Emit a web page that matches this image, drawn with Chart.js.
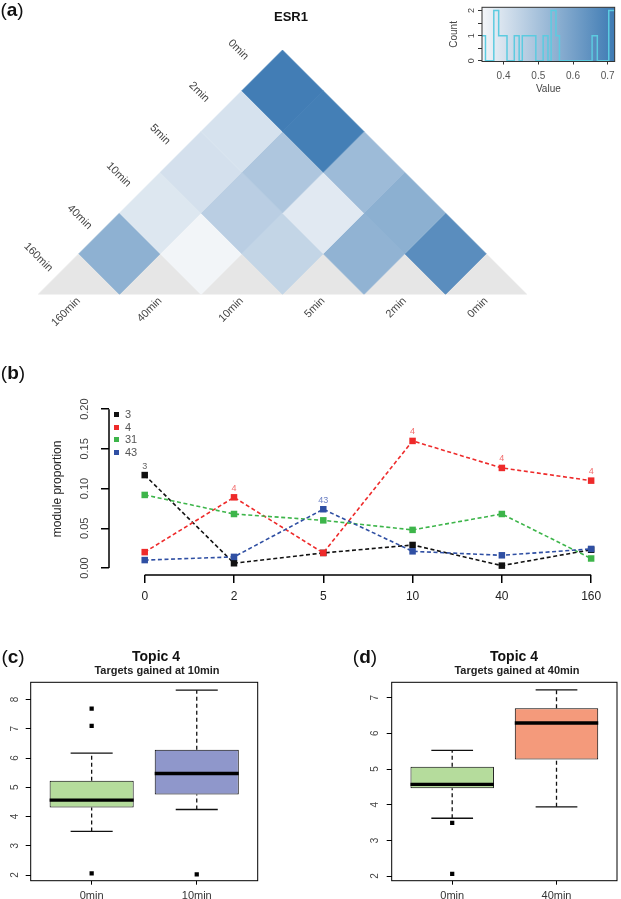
<!DOCTYPE html>
<html>
<head>
<meta charset="utf-8">
<title>ESR1 topic modules</title>
<script src="https://cdn.jsdelivr.net/npm/chart.js@4.4.1/dist/chart.umd.min.js"></script>
<style>
  html, body { margin: 0; padding: 0; background: #fff; }
  body { position: relative; width: 621px; height: 899px; overflow: hidden;
         font-family: 'Liberation Sans', Arial, Helvetica, sans-serif; }
  canvas { position: absolute; }
  .txt { position: absolute; transform: translate(-50%, -50%); white-space: nowrap; color: #111; }
  .tag { font-size: 19px; }
  .main { font-size: 14px; font-weight: bold; }
  .sub { font-size: 11px; font-weight: bold; color: #222; }
  #legendB { position: absolute; left: 114px; top: 408px; font-size: 11px; color: #555; line-height: 12.5px; }
  #legendB span { display: inline-block; width: 5px; height: 5px; margin-right: 6px; vertical-align: 1px; }
</style>
</head>
<body>
<canvas id="chartA" width="560" height="330" style="left:0;top:0"></canvas>
<canvas id="chartKey" width="181" height="100" style="left:440px;top:0"></canvas>
<canvas id="chartB" width="621" height="290" style="left:0;top:330px"></canvas>
<canvas id="chartC" width="310" height="259" style="left:0;top:640px"></canvas>
<canvas id="chartD" width="311" height="259" style="left:310px;top:640px"></canvas>

<div class="txt tag" style="left:12px;top:10px">(<b>a</b>)</div>
<div class="txt main" style="left:291px;top:16px;font-size:13px">ESR1</div>
<div class="txt tag" style="left:13px;top:373px">(<b>b</b>)</div>
<div id="legendB"></div>
<div class="txt tag" style="left:13px;top:657px">(<b>c</b>)</div>
<div class="txt main" style="left:156px;top:656px">Topic 4</div>
<div class="txt sub" style="left:157px;top:670px">Targets gained at 10min</div>
<div class="txt tag" style="left:365px;top:657px">(<b>d</b>)</div>
<div class="txt main" style="left:514px;top:656px">Topic 4</div>
<div class="txt sub" style="left:517px;top:670px">Targets gained at 40min</div>

<script>
(() => {
  'use strict';

  // ---- (a) similarity between time points
  const timeLabels = ['160min', '40min', '10min', '5min', '2min', '0min'];
  // levelN[i] = value for the pair (timeLabels[i], timeLabels[i + N])
  const level1 = [0.550, 0.342, 0.440, 0.545, 0.660];
  const level2 = [0.385, 0.460, 0.378, 0.555];
  const level3 = [0.405, 0.485, 0.520];
  const level4 = [0.400, 0.705];
  const level5 = [0.710];

  // colour key histogram (inset)
  const histEdges = [0.338, 0.348, 0.372, 0.386, 0.410, 0.431, 0.445, 0.454, 0.466, 0.479,
    0.493, 0.514, 0.528, 0.537, 0.551, 0.561, 0.655, 0.670, 0.703, 0.720];
  const histCounts = [1, 0, 2, 1, 0, 1, 0, 1, 1, 1, 0, 1, 0, 2, 1, 0, 1, 0, 2];
  const keyTicks = [0.4, 0.5, 0.6, 0.7];
  const countTicks = [0, 0.5, 1, 1.5, 2];

  // ---- (b) module proportions over time
  const timePoints = ['0', '2', '5', '10', '40', '160'];
  const mod3 = [0.117, 0.006, 0.019, 0.029, 0.003, 0.023];
  const mod4 = [0.020, 0.089, 0.019, 0.160, 0.126, 0.110];
  const mod31 = [0.092, 0.068, 0.060, 0.048, 0.068, 0.012];
  const mod43 = [0.010, 0.014, 0.074, 0.021, 0.016, 0.024];
  const moduleNames = ['3', '4', '31', '43'];
  const propTicks = [0, 0.05, 0.10, 0.15, 0.20];

  // ---- (c) topic 4, targets gained at 10min
  const groupsC = ['0min', '10min'];
  const lowC = [3.49, 4.24];
  const q1C = [4.31, 4.75];
  const medC = [4.56, 5.47];
  const q3C = [5.22, 6.28];
  const highC = [6.17, 8.32];
  const outC = [[7.69, 7.10, 2.06], [2.02]];
  const ticksC = [2, 3, 4, 5, 6, 7, 8];

  // ---- (d) topic 4, targets gained at 40min
  const groupsD = ['0min', '40min'];
  const lowD = [3.62, 3.94];
  const q1D = [4.46, 5.27];
  const medD = [4.57, 6.29];
  const q3D = [5.06, 6.70];
  const highD = [5.52, 7.22];
  const outD = [[3.49, 2.06], []];
  const ticksD = [2, 3, 4, 5, 6, 7];

  // styles
  const FONT = "'Liberation Sans', Arial, Helvetica, sans-serif";
  const keyLow = 0.338, keyHigh = 0.72;
  const lightRGB = [244, 246, 249], darkRGB = [61, 122, 179];
  const moduleColors = ['#111111', '#ee2a2a', '#3db54a', '#2f4fa3'];
  const moduleTagColors = ['#666666', '#f26d6d', '#6cc070', '#6c80c4'];

  Chart.defaults.font.family = FONT;
  Chart.defaults.animation = false;
  Chart.defaults.responsive = false;
  Chart.defaults.events = [];
  Chart.defaults.plugins.legend.display = false;
  Chart.defaults.plugins.tooltip.enabled = false;

  function shade(v) {
    const t = Math.min(1, Math.max(0, (v - keyLow) / (keyHigh - keyLow)));
    const c = lightRGB.map((l, k) => Math.round(l + (darkRGB[k] - l) * t));
    return `rgb(${c.join(',')})`;
  }

  const unitPx = c => {
    const s = c.chart.scales.x;
    return Math.abs(s.getPixelForValue(1) - s.getPixelForValue(0));
  };

  const fixed = list => s => { s.ticks = list.map(v => ({ value: v })); };

  function frame(color, width) {
    return {
      id: 'frame',
      afterDatasetsDraw(chart) {
        const { ctx, chartArea: a } = chart;
        ctx.save();
        ctx.strokeStyle = color;
        ctx.lineWidth = width;
        ctx.strokeRect(a.left, a.top, a.right - a.left, a.bottom - a.top);
        ctx.restore();
      }
    };
  }

  // R draws the y tick labels turned on their side
  function sideTicks(xPos, size, fmt) {
    return {
      id: 'sideTicks',
      afterDraw(chart) {
        const { ctx } = chart;
        const y = chart.scales.y;
        ctx.save();
        ctx.font = `${size}px ${FONT}`;
        ctx.fillStyle = '#444';
        ctx.textAlign = 'center';
        ctx.textBaseline = 'middle';
        y.ticks.forEach(t => {
          const txt = fmt(t.value);
          if (!txt) return;
          ctx.save();
          ctx.translate(xPos, y.getPixelForValue(t.value));
          ctx.rotate(-Math.PI / 2);
          ctx.fillText(txt, 0, 0);
          ctx.restore();
        });
        ctx.restore();
      }
    };
  }

  // ---------------- (a) triangle heatmap
  const levels = [level1, level2, level3, level4, level5];
  const cells = timeLabels.map((_, i) => ({ x: i, y: 0, v: null }));
  levels.forEach((row, d) => {
    row.forEach((v, i) => cells.push({ x: i + (d + 1) / 2, y: (d + 1) / 2, v }));
  });

  const rowLabels = {
    id: 'rowLabels',
    afterDraw(chart) {
      const { ctx, scales: { x, y } } = chart;
      ctx.save();
      ctx.font = `11px ${FONT}`;
      ctx.fillStyle = '#444';
      ctx.textAlign = 'right';
      ctx.textBaseline = 'middle';
      for (let k = 0; k < timeLabels.length; k++) {
        ctx.save();
        ctx.translate(x.getPixelForValue(2.06 - 0.48 * k), y.getPixelForValue(2.9 - 0.52 * k));
        ctx.rotate(Math.PI / 4);
        ctx.fillText(timeLabels[timeLabels.length - 1 - k], 0, 0);
        ctx.restore();
      }
      ctx.restore();
    }
  };

  const cellColor = c => (c.raw.v == null ? '#e6e6e6' : shade(c.raw.v));

  new Chart(document.getElementById('chartA'), {
    type: 'scatter',
    data: {
      datasets: [{
        data: cells,
        pointStyle: 'rectRot',
        pointRadius: c => unitPx(c) / 2,
        pointBackgroundColor: cellColor,
        pointBorderColor: cellColor,
        pointBorderWidth: 0.6
      }]
    },
    options: {
      layout: { padding: { left: 38, top: 50, right: 33, bottom: 0 } },
      scales: {
        x: {
          type: 'linear', min: -0.5, max: 5.5,
          afterBuildTicks: fixed(timeLabels.map((_, i) => i)),
          afterFit: s => { s.height = 35.5; },
          grid: { display: false, drawTicks: false },
          border: { display: false },
          ticks: {
            autoSkip: false, minRotation: 45, maxRotation: 45, padding: 0,
            color: '#444', font: { size: 11 },
            callback: v => timeLabels[v]
          }
        },
        y: { type: 'linear', display: false, min: 0, max: 3 }
      }
    },
    plugins: [rowLabels]
  });

  // ---------------- (a) colour key inset
  const histPts = histCounts.map((n, i) => ({ x: histEdges[i], y: n }));
  histPts.push({ x: histEdges[histEdges.length - 1], y: histCounts[histCounts.length - 1] });

  const keyRamp = {
    id: 'keyRamp',
    beforeDatasetsDraw(chart) {
      const { ctx, chartArea: a, scales: { x } } = chart;
      const g = ctx.createLinearGradient(x.getPixelForValue(keyLow), 0, x.getPixelForValue(keyHigh), 0);
      g.addColorStop(0, shade(keyLow));
      g.addColorStop(1, shade(keyHigh));
      ctx.save();
      ctx.fillStyle = g;
      ctx.fillRect(a.left, a.top, a.right - a.left, a.bottom - a.top);
      ctx.restore();
    }
  };

  new Chart(document.getElementById('chartKey'), {
    type: 'line',
    data: {
      datasets: [{
        data: histPts, stepped: true, borderColor: '#5ccbe0', borderWidth: 1.5,
        pointRadius: 0, fill: false
      }]
    },
    options: {
      layout: { padding: { top: 7.3, right: 6, left: 0, bottom: 0 } },
      scales: {
        x: {
          type: 'linear', min: keyLow, max: keyHigh,
          afterBuildTicks: fixed(keyTicks),
          afterFit: s => { s.height = 38.5; },
          border: { display: false },
          grid: { drawOnChartArea: false, tickLength: 3, color: '#333' },
          ticks: { autoSkip: false, maxRotation: 0, padding: 6, color: '#555', font: { size: 10 },
            callback: v => v.toFixed(1) },
          title: { display: true, text: 'Value', color: '#444', font: { size: 10 }, padding: { top: 0, bottom: 5 } }
        },
        y: {
          type: 'linear', min: -0.03, max: 2.13,
          afterBuildTicks: fixed(countTicks),
          afterFit: s => { s.width = 42; },
          border: { display: false },
          grid: { drawOnChartArea: false, tickLength: 4, color: '#333' },
          ticks: { display: false },
          title: { display: true, text: 'Count', color: '#444', font: { size: 10 }, padding: { top: 8, bottom: 0 } }
        }
      }
    },
    plugins: [keyRamp, frame('#333', 1), sideTicks(32, 9, v => (Number.isInteger(v) ? String(v) : ''))]
  });

  // ---------------- (b) module proportion lines
  const moduleSeries = [mod3, mod4, mod31, mod43];

  const peakLabels = {
    id: 'peakLabels',
    afterDatasetsDraw(chart) {
      const { ctx } = chart;
      ctx.save();
      ctx.font = `9px ${FONT}`;
      ctx.textAlign = 'center';
      ctx.textBaseline = 'middle';
      timePoints.forEach((_, i) => {
        let best = 0;
        moduleSeries.forEach((s, j) => { if (s[i] > moduleSeries[best][i]) best = j; });
        const pt = chart.getDatasetMeta(best).data[i];
        ctx.fillStyle = moduleTagColors[best];
        ctx.fillText(moduleNames[best], pt.x, pt.y - 9);
      });
      ctx.restore();
    }
  };

  // detached R-style axis lines, from first to last tick
  const rAxes = {
    id: 'rAxes',
    afterDraw(chart) {
      const { ctx, chartArea: a, scales: { x, y } } = chart;
      const xt = x.ticks, yt = y.ticks;
      ctx.save();
      ctx.strokeStyle = '#000';
      ctx.lineWidth = 1.5;
      ctx.beginPath();
      ctx.moveTo(a.left, y.getPixelForValue(yt[0].value));
      ctx.lineTo(a.left, y.getPixelForValue(yt[yt.length - 1].value));
      ctx.moveTo(x.getPixelForValue(xt[0].value), a.bottom);
      ctx.lineTo(x.getPixelForValue(xt[xt.length - 1].value), a.bottom);
      ctx.stroke();
      ctx.restore();
    }
  };

  new Chart(document.getElementById('chartB'), {
    type: 'line',
    data: {
      datasets: moduleSeries.map((s, j) => ({
        label: moduleNames[j],
        data: s.map((v, i) => ({ x: i, y: v })),
        borderColor: moduleColors[j],
        backgroundColor: moduleColors[j],
        borderWidth: 1.6,
        borderDash: [4, 2.6],
        pointStyle: 'rect',
        pointRadius: 4.6,
        pointBorderWidth: 0,
        pointBackgroundColor: moduleColors[j],
        fill: false,
        clip: false,
        order: moduleSeries.length - j
      }))
    },
    options: {
      layout: { padding: { top: 72.8, right: 12, left: 0, bottom: 0 } },
      scales: {
        x: {
          type: 'linear', min: -0.4, max: 5.2, offset: false,
          afterBuildTicks: fixed(timePoints.map((_, i) => i)),
          afterFit: s => { s.height = 45; },
          border: { display: false },
          grid: { drawOnChartArea: false, tickLength: 8, color: '#000', lineWidth: 1.5, offset: false },
          ticks: { autoSkip: false, maxRotation: 0, padding: 6.5, color: '#222', font: { size: 12 },
            callback: v => timePoints[v] }
        },
        y: {
          type: 'linear', min: -0.0088, max: 0.208,
          afterBuildTicks: fixed(propTicks),
          afterFit: s => { s.width = 109; },
          border: { display: false },
          grid: { drawOnChartArea: false, tickLength: 8, color: '#000', lineWidth: 1.5 },
          ticks: { display: false },
          title: { display: true, text: 'module proportion', color: '#222', font: { size: 12 },
            padding: { top: 50, bottom: 0 } }
        }
      }
    },
    plugins: [rAxes, peakLabels, sideTicks(85, 11, v => v.toFixed(2))]
  });

  document.getElementById('legendB').innerHTML = moduleNames
    .map((n, j) => `<div><span style="background:${moduleColors[j]}"></span>${n}</div>`)
    .join('');

  // ---------------- (c), (d) box plots
  function boxDatasets(st) {
    const at = arr => arr.map((v, i) => ({ x: i + 1, y: v }));
    const sets = [
      {
        type: 'bar',
        data: st.q1.map((v, i) => ({ x: i + 1, y: [v, st.q3[i]] })),
        backgroundColor: st.fills, borderColor: '#000', borderWidth: 1, borderSkipped: false,
        barPercentage: 0.8, categoryPercentage: 1, order: 3
      },
      {
        type: 'scatter', data: at(st.med), pointStyle: 'line',
        pointRadius: c => 0.4 * unitPx(c), pointBorderWidth: 3.4, pointBorderColor: '#000', order: 1
      },
      {
        type: 'scatter', data: at(st.low).concat(at(st.high)), pointStyle: 'line',
        pointRadius: c => 0.2 * unitPx(c), pointBorderWidth: 1.3, pointBorderColor: '#111', order: 2
      },
      {
        type: 'scatter', data: st.out.flatMap((arr, i) => arr.map(v => ({ x: i + 1, y: v }))),
        pointStyle: 'rect', pointRadius: 3, pointBackgroundColor: '#000', pointBorderWidth: 0, order: 2
      }
    ];
    st.groups.forEach((_, i) => {
      [[st.q3[i], st.high[i]], [st.low[i], st.q1[i]]].forEach(([a, b]) => {
        sets.push({
          type: 'line', data: [{ x: i + 1, y: a }, { x: i + 1, y: b }],
          borderColor: '#111', borderWidth: 1.3, borderDash: [4, 3], pointRadius: 0, order: 2
        });
      });
    });
    return sets;
  }

  function boxChart(id, st, box) {
    new Chart(document.getElementById(id), {
      type: 'bar',
      data: { datasets: boxDatasets(st) },
      options: {
        layout: { padding: { top: box.top, right: box.right, left: 0, bottom: 0 } },
        scales: {
          x: {
            type: 'linear', min: 0.42, max: 2.58, offset: false,
            afterBuildTicks: fixed(st.groups.map((_, i) => i + 1)),
            afterFit: s => { s.height = box.xHeight; },
            border: { display: false },
            grid: { drawOnChartArea: false, offset: false, tickLength: 4, color: '#000' },
            ticks: { autoSkip: false, maxRotation: 0, padding: 4.5, color: '#333', font: { size: 11 },
              callback: v => st.groups[v - 1] }
          },
          y: {
            type: 'linear', min: box.yMin, max: box.yMax,
            afterBuildTicks: fixed(st.ticks),
            afterFit: s => { s.width = box.yWidth; },
            border: { display: false },
            grid: { drawOnChartArea: false, tickLength: 5, color: '#000' },
            ticks: { display: false }
          }
        }
      },
      plugins: [frame('#000', 1), sideTicks(box.tickX, 10, v => String(v))]
    });
  }

  boxChart('chartC',
    { groups: groupsC, low: lowC, q1: q1C, med: medC, q3: q3C, high: highC, out: outC, ticks: ticksC,
      fills: ['#b5dc9c', '#8f97cb'] },
    { top: 42.3, right: 52.3, xHeight: 18.3, yWidth: 30.7, yMin: 1.806, yMax: 8.59, tickX: 15 });

  boxChart('chartD',
    { groups: groupsD, low: lowD, q1: q1D, med: medD, q3: q3D, high: highD, out: outD, ticks: ticksD,
      fills: ['#b5dc9c', '#f49a7b'] },
    { top: 42.3, right: 2.5, xHeight: 18.3, yWidth: 81.7, yMin: 1.87, yMax: 7.43, tickX: 65 });
})();
</script>
</body>
</html>
